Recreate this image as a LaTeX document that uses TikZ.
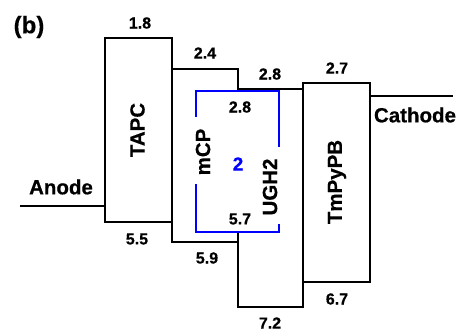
\documentclass[tikz,border=0pt]{standalone}
\usepackage{fontspec}
\setmainfont[BoldFeatures={FakeBold=0.5}]{Liberation Sans}
\begin{document}
\begin{tikzpicture}[x=1pt,y=-1pt,
  lvl/.style={line width=2.2pt,line cap=rect,black},
  dop/.style={line width=2.8pt,blue,line cap=butt},
  num/.style={font=\bfseries\fontsize{16}{17}\selectfont,inner sep=0pt},
  lab/.style={font=\bfseries\fontsize{20.5}{22}\selectfont,inner sep=0pt},
  vlab/.style={lab,rotate=90}]
\useasboundingbox (0,0) rectangle (459,331);
% corners
\coordinate (tapcTL) at (105,38);
\coordinate (tapcBR) at (172,222);
\coordinate (mcpT) at (238,69);
\coordinate (mcpB) at (238,242);
\coordinate (ughTR) at (303,89);
\coordinate (ughBL) at (238,307);
\coordinate (tmTL) at (303,83);
\coordinate (tmBR) at (370,282);
\coordinate (an0) at (21,206);
\coordinate (an1) at (105,206);
\coordinate (ca0) at (370,96);
\coordinate (ca1) at (452,96);
% Anode / Cathode
\draw[lvl] (an0) -- (an1);
\draw[lvl] (ca0) -- (ca1);
% TAPC
\draw[lvl] (tapcTL) rectangle (tapcBR);
% mCP
\draw[lvl] (172,69) -- (mcpT) -- (238,91);
\draw[lvl] (172,222) -- (172,242) -- (mcpB) -- (238,232);
% UGH2
\draw[lvl] (238,89) -- (ughTR) -- (303,307) -- (ughBL) -- (238,232);
% TmPyPB
\draw[lvl] (tmTL) rectangle (tmBR);
% dopant bracket
\draw[dop] (196,117) -- (196,91) -- (279,91) -- (279,147);
\draw[dop] (196,184) -- (196,232) -- (279,232) -- (279,224);
% labels
\node[font=\bfseries\fontsize{24}{26}\selectfont,inner sep=0pt] (b) at (29,27) {(b)};
\node[num] (n18) at (140,23) {1.8};
\node[num] (n24) at (205,53) {2.4};
\node[num] (n28a) at (270,74) {2.8};
\node[num] (n27) at (337,68) {2.7};
\node[num] (n28b) at (240,107) {2.8};
\node[num] (n57) at (240,219) {5.7};
\node[num] (n55) at (137,239) {5.5};
\node[num] (n59) at (207,258) {5.9};
\node[num] (n67) at (337,299) {6.7};
\node[num] (n72) at (270,323) {7.2};
\node[lab] (anode) at (61,187) {Anode};
\node[lab] (cathode) at (415,115) {Cathode};
\node[vlab] (tapc) at (137.5,130) {TAPC};
\node[vlab] (mcp) at (203,152) {mCP};
\node[vlab] (ugh) at (270,187) {UGH2};
\node[vlab] (tm) at (337,182) {TmPyPB};
\node[font=\bfseries\fontsize{19}{20}\selectfont,inner sep=0pt,text=blue] (two) at (238,164) {2};
\end{tikzpicture}
\end{document}
